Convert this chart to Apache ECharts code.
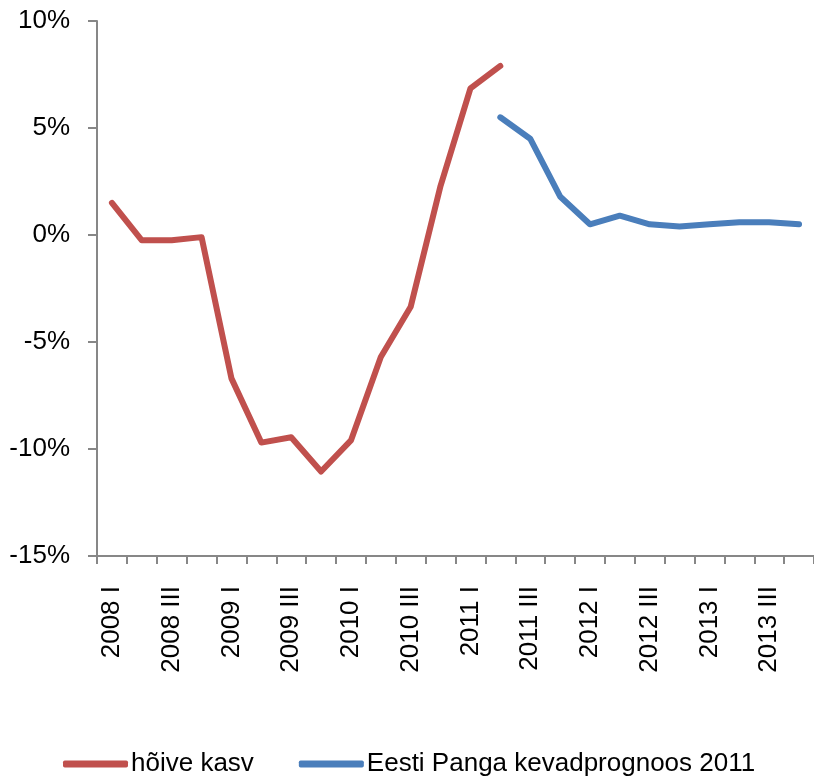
<!DOCTYPE html>
<html>
<head>
<meta charset="utf-8">
<script src="https://cdn.jsdelivr.net/npm/echarts@6/dist/echarts.min.js"></script>
<style>
  html, body { margin: 0; padding: 0; background: #fff; }
  #chart { width: 814px; height: 778px; }
</style>
</head>
<body>
<div id="chart"></div>
<script>
// Quarters 2008 I .. 2013 IV
const quarters = [
  '2008 I', '2008 II', '2008 III', '2008 IV',
  '2009 I', '2009 II', '2009 III', '2009 IV',
  '2010 I', '2010 II', '2010 III', '2010 IV',
  '2011 I', '2011 II', '2011 III', '2011 IV',
  '2012 I', '2012 II', '2012 III', '2012 IV',
  '2013 I', '2013 II', '2013 III', '2013 IV'
];

// Employment growth, % (actual)
const hoiveKasv = [
  1.5, -0.25, -0.25, -0.1,
  -6.7, -9.7, -9.45, -11.05,
  -9.6, -5.7, -3.35, 2.3,
  6.85, 7.9, null, null,
  null, null, null, null,
  null, null, null, null
];

// Bank of Estonia spring forecast 2011, %
const prognoos = [
  null, null, null, null,
  null, null, null, null,
  null, null, null, null,
  null, 5.5, 4.5, 1.8,
  0.5, 0.9, 0.5, 0.4,
  0.5, 0.6, 0.6, 0.5
];

const yTicks = { min: -15, max: 10, step: 5 };

const font = 'Liberation Sans, Arial, sans-serif';
const axisGrey = '#878787';

const chart = echarts.init(document.getElementById('chart'));

chart.setOption({
  animation: false,
  textStyle: { fontFamily: font },
  grid: {
    left: 97,
    right: -4,
    top: 21,
    bottom: 222
  },
  xAxis: {
    type: 'category',
    data: quarters,
    boundaryGap: true,
    axisLine: { onZero: false, lineStyle: { color: axisGrey, width: 2 } },
    axisTick: { show: true, interval: 0, length: 8, lineStyle: { color: axisGrey, width: 2 } },
    axisLabel: {
      interval: 1,
      rotate: 90,
      margin: 30,
      fontSize: 26,
      color: '#000',
      fontFamily: font
    },
    splitLine: { show: false }
  },
  yAxis: {
    type: 'value',
    min: yTicks.min,
    max: yTicks.max,
    interval: yTicks.step,
    axisLine: { show: true, lineStyle: { color: axisGrey, width: 2 } },
    axisTick: { show: true, length: 9, lineStyle: { color: axisGrey, width: 2 } },
    axisLabel: {
      formatter: '{value}%',
      margin: 27,
      fontSize: 26,
      color: '#000',
      fontFamily: font
    },
    splitLine: { show: false }
  },
  legend: {
    left: 58,
    top: 746,
    icon: 'roundRect',
    itemWidth: 65,
    itemHeight: 7,
    itemGap: 45,
    textStyle: { fontSize: 26, color: '#000', fontFamily: font, padding: [0, 0, 0, -2] },
    data: ['hõive kasv', 'Eesti Panga kevadprognoos 2011']
  },
  series: [
    {
      name: 'hõive kasv',
      type: 'line',
      data: hoiveKasv,
      symbol: 'none',
      connectNulls: false,
      itemStyle: { color: '#C0504D' },
      lineStyle: { color: '#C0504D', width: 6, cap: 'round', join: 'round' }
    },
    {
      name: 'Eesti Panga kevadprognoos 2011',
      type: 'line',
      data: prognoos,
      symbol: 'none',
      connectNulls: false,
      itemStyle: { color: '#4A7EBB' },
      lineStyle: { color: '#4A7EBB', width: 6, cap: 'round', join: 'round' }
    }
  ]
});
</script>
</body>
</html>
